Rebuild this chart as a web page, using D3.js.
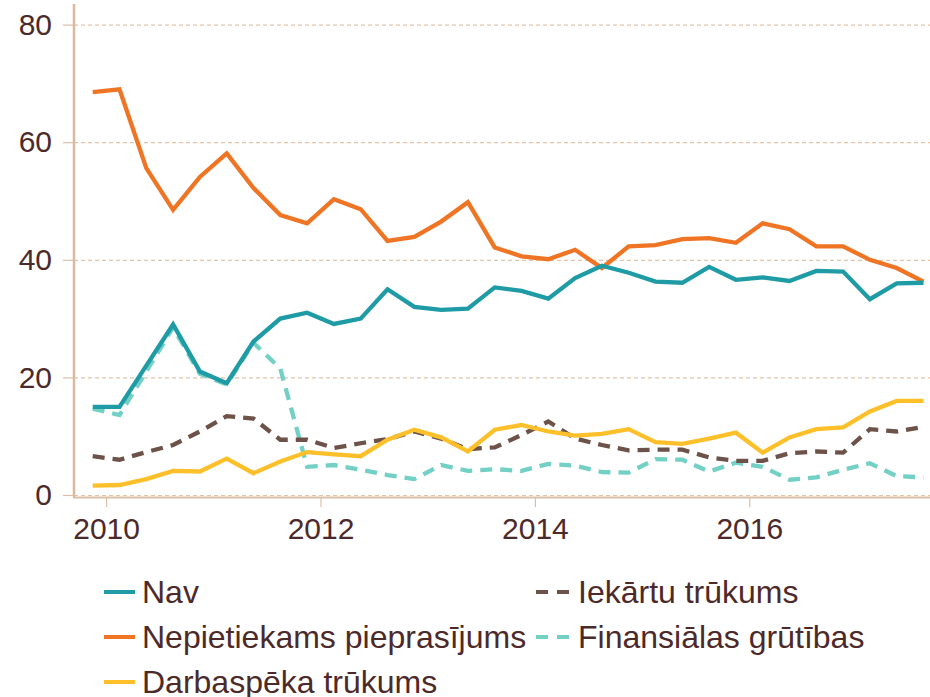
<!DOCTYPE html>
<html lang="lv">
<head>
<meta charset="UTF-8">
<title>Ierobežojošie faktori</title>
<script src="https://d3js.org/d3.v7.min.js"></script>
<style>
  body { margin: 0; background: #fff; }
  text { font-family: "Liberation Sans", Arial, sans-serif; fill: #4d2a2a; }
</style>
</head>
<body>
<div id="chart"></div>
<script>
// quarters shown on the x axis (points sit in the middle of each quarter)
const quarters = ["2009Q4",
  "2010Q1", "2010Q2", "2010Q3", "2010Q4",
  "2011Q1", "2011Q2", "2011Q3", "2011Q4",
  "2012Q1", "2012Q2", "2012Q3", "2012Q4",
  "2013Q1", "2013Q2", "2013Q3", "2013Q4",
  "2014Q1", "2014Q2", "2014Q3", "2014Q4",
  "2015Q1", "2015Q2", "2015Q3", "2015Q4",
  "2016Q1", "2016Q2", "2016Q3", "2016Q4",
  "2017Q1", "2017Q2", "2017Q3"];

const nav        = [15.0, 15.0, 22.0, 29.0, 21.0, 19.0, 26.1, 30.0, 31.0, 29.1, 30.0, 35.0, 32.0, 31.5, 31.7, 35.3, 34.7, 33.4, 36.9, 39.0, 37.8, 36.3, 36.1, 38.8, 36.6, 37.0, 36.4, 38.1, 38.0, 33.3, 36.0, 36.1];
const pieprasijums = [68.5, 69.0, 55.6, 48.5, 54.1, 58.1, 52.2, 47.6, 46.2, 50.3, 48.6, 43.2, 43.9, 46.5, 49.8, 42.1, 40.6, 40.1, 41.7, 38.6, 42.3, 42.5, 43.5, 43.7, 42.9, 46.2, 45.2, 42.3, 42.3, 40.0, 38.6, 36.3];
const darbaspeks  = [1.6, 1.7, 2.7, 4.1, 4.0, 6.2, 3.7, 5.7, 7.3, 6.9, 6.6, 9.4, 11.1, 9.8, 7.4, 11.1, 11.9, 10.8, 10.1, 10.4, 11.2, 9.0, 8.7, 9.6, 10.6, 7.2, 9.8, 11.2, 11.5, 14.2, 16.0, 16.0];
const iekartas    = [6.6, 6.0, 7.3, 8.5, 10.8, 13.4, 13.0, 9.4, 9.4, 8.0, 8.8, 9.5, 10.8, 9.6, 7.8, 8.1, 10.2, 12.5, 9.6, 8.5, 7.6, 7.7, 7.7, 6.4, 5.8, 5.8, 7.1, 7.4, 7.2, 11.2, 10.8, 11.6];
const finanses    = [14.7, 13.6, 21.0, 28.5, 20.6, 18.8, 25.9, 21.5, 4.8, 5.1, 4.3, 3.4, 2.7, 5.1, 4.1, 4.4, 4.1, 5.3, 5.0, 3.9, 3.8, 6.1, 6.0, 4.0, 5.5, 4.8, 2.6, 3.0, 4.3, 5.4, 3.2, 3.0];

const yTicks = [0, 20, 40, 60, 80];
const xTicks = [2010, 2012, 2014, 2016];

const width = 930, height = 697;

// quarter string -> fractional year at mid-quarter
const qYear = quarters.map(q => +q.slice(0, 4) + (+q.slice(5) - 1) / 4 + 0.125);

const x = d3.scaleLinear().domain([d3.min(qYear), d3.max(qYear)]).range([92.7, 923.5]);
const y = d3.scaleLinear().domain([0, 80]).range([495, 24.6]);

const svg = d3.select("#chart").append("svg")
    .attr("width", width)
    .attr("height", height);

// dashed gridlines
svg.append("g")
    .attr("transform", "translate(74,0)")
    .call(d3.axisLeft(y).tickValues(yTicks).tickSize(-(width - 74)).tickFormat(""))
    .call(g => g.select(".domain").remove())
    .selectAll("line")
      .attr("stroke", "#e2c4aa")
      .attr("stroke-width", 1.2)
      .attr("stroke-dasharray", "4,3");

// y axis with labels
svg.append("g")
    .attr("transform", "translate(74,0)")
    .call(d3.axisLeft(y).tickValues(yTicks).tickSize(11).tickPadding(11))
    .call(g => g.select(".domain").remove())
    .call(g => g.selectAll("line").attr("stroke", "#dcbfa6").attr("stroke-width", 1.2))
    .call(g => g.selectAll("text")
        .style("font-size", "30px")
        .attr("fill", "#4d2a2a"));

svg.append("line")
    .attr("x1", 74).attr("x2", 74)
    .attr("y1", 4).attr("y2", 497)
    .attr("stroke", "#d9b99f")
    .attr("stroke-width", 2.5);

// x axis
svg.append("g")
    .attr("transform", "translate(0,497)")
    .call(d3.axisBottom(x).tickValues(xTicks).tickFormat(d3.format("d")).tickSize(10).tickPadding(11))
    .call(g => g.select(".domain").remove())
    .call(g => g.selectAll("line").attr("stroke", "#dcbfa6").attr("stroke-width", 1.2))
    .call(g => g.selectAll("text")
        .style("font-size", "30px")
        .attr("fill", "#4d2a2a"));

svg.append("line")
    .attr("x1", 73).attr("x2", width)
    .attr("y1", 497.5).attr("y2", 497.5)
    .attr("stroke", "#dcbfa6")
    .attr("stroke-width", 2);

const series = [
  { name: "Finansiālas grūtības", values: finanses, color: "#72d0c4", dash: "12,8" },
  { name: "Iekārtu trūkums", values: iekartas, color: "#6c5248", dash: "12,8" },
  { name: "Darbaspēka trūkums", values: darbaspeks, color: "#fdc02b", dash: null },
  { name: "Nepietiekams pieprasījums", values: pieprasijums, color: "#ef7423", dash: null },
  { name: "Nav", values: nav, color: "#1f9ba6", dash: null }
];

const line = d3.line()
    .x((d, i) => x(qYear[i]))
    .y(d => y(d));

svg.append("g").selectAll("path")
    .data(series)
    .join("path")
      .attr("d", d => line(d.values))
      .attr("fill", "none")
      .attr("stroke", d => d.color)
      .attr("stroke-width", 4.3)
      .attr("stroke-dasharray", d => d.dash);

// legend
const legendItems = [
  { name: "Nav", color: "#1f9ba6", dash: null, col: 0, row: 0 },
  { name: "Nepietiekams pieprasījums", color: "#ef7423", dash: null, col: 0, row: 1 },
  { name: "Darbaspēka trūkums", color: "#fdc02b", dash: null, col: 0, row: 2 },
  { name: "Iekārtu trūkums", color: "#6c5248", dash: "12,9", col: 1, row: 0 },
  { name: "Finansiālas grūtības", color: "#72d0c4", dash: "12,9", col: 1, row: 1 }
];
const colX = [104, 536];
const rowY = [592, 637, 682];

const leg = svg.append("g").selectAll("g")
    .data(legendItems)
    .join("g")
      .attr("transform", d => `translate(${colX[d.col]},${rowY[d.row]})`);

leg.append("line")
    .attr("x1", 0)
    .attr("x2", d => d.dash ? 35 : 31)
    .attr("stroke", d => d.color)
    .attr("stroke-width", 4)
    .attr("stroke-dasharray", d => d.dash);

leg.append("text")
    .attr("x", d => d.dash ? 42 : 38)
    .attr("y", 11)
    .style("font-size", "32px")
    .text(d => d.name);
</script>
</body>
</html>
